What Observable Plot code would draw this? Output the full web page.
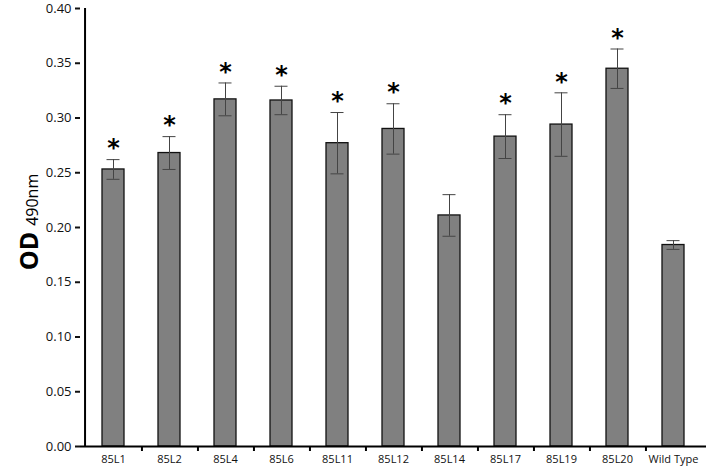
<!DOCTYPE html>
<html>
<head>
<meta charset="utf-8">
<script src="https://cdn.jsdelivr.net/npm/d3@7"></script>
<script src="https://cdn.jsdelivr.net/npm/@observablehq/plot@0.6"></script>
<style>
  html, body { margin: 0; padding: 0; background: #fff; }
  #chart svg { display: block; font-family: "Open Sans", "Liberation Sans", sans-serif; }
</style>
</head>
<body>
<div id="chart"></div>
<script>
const categories = ["85L1", "85L2", "85L4", "85L6", "85L11", "85L12", "85L14", "85L17", "85L19", "85L20", "Wild Type"];
const means = [0.253, 0.268, 0.317, 0.316, 0.277, 0.290, 0.211, 0.283, 0.294, 0.345, 0.184];
const errors = [0.009, 0.015, 0.015, 0.013, 0.028, 0.023, 0.019, 0.020, 0.029, 0.018, 0.004];
const significant = [true, true, true, true, true, true, false, true, true, true, false];
const yTicks = [0, 0.05, 0.10, 0.15, 0.20, 0.25, 0.30, 0.35, 0.40];

const data = categories.map((c, i) => ({cat: c, v: means[i], e: errors[i], sig: significant[i]}));

const W = 708, H = 469, ML = 80, MR = 2, MT = 8, MB = 23;
const step = (W - ML - MR) / categories.length;

const chart = Plot.plot({
  width: W, height: H,
  marginLeft: ML, marginRight: MR, marginTop: MT, marginBottom: MB,
  x: {domain: categories, paddingInner: 0.6, paddingOuter: 0.3},
  y: {domain: [0, 0.4]},
  marks: [
    Plot.barY(data, {x: "cat", y: "v", fill: "#808080", stroke: "#111", strokeWidth: 1.3}),
    Plot.ruleX(data, {x: "cat", y1: d => d.v - d.e, y2: d => d.v + d.e, stroke: "#444", strokeWidth: 1}),
    Plot.tickY(data, {x: "cat", y: d => d.v + d.e, stroke: "#444", strokeWidth: 1, insetLeft: 4.5, insetRight: 4.5}),
    Plot.tickY(data, {x: "cat", y: d => d.v - d.e, stroke: "#444", strokeWidth: 1, insetLeft: 4.5, insetRight: 4.5}),
    Plot.text(data.filter(d => d.sig), {x: "cat", y: d => d.v + d.e, text: () => "*", dy: -11, fontSize: 24, fontWeight: "bold", fill: "#000", fontFamily: "DejaVu Sans"}),
    Plot.axisY({ticks: yTicks, tickFormat: d3.format(".2f"), tickSize: 5, tickPadding: 4, fontSize: 13, label: null, strokeWidth: 2, color: "#111"}),
    Plot.axisX({tickSize: 0, tickPadding: 9, fontSize: 11, label: null, color: "#111"}),
    Plot.ruleY([0], {stroke: "#000", strokeWidth: 2}),
    Plot.ruleX([categories[0]], {x: d => d, dx: -step / 2, y1: 0, y2: 0.4, stroke: "#000", strokeWidth: 2}),
    Plot.ruleX(categories.slice(0, -1), {x: d => d, dx: step / 2, y1: 0, y2: 0, insetBottom: -5, stroke: "#000", strokeWidth: 2})
  ]
});

const svg = d3.select(chart);
const lab = svg.append("text")
  .attr("transform", "translate(38,222) rotate(-90)")
  .attr("text-anchor", "middle")
  .attr("font-family", "'Open Sans', 'Liberation Sans', sans-serif")
  .attr("fill", "#000");
lab.append("tspan").attr("font-size", 25).attr("font-weight", "bold").text("OD");
lab.append("tspan").attr("font-size", 16).attr("dx", 6).text("490nm");

document.getElementById("chart").appendChild(chart);
</script>
</body>
</html>
